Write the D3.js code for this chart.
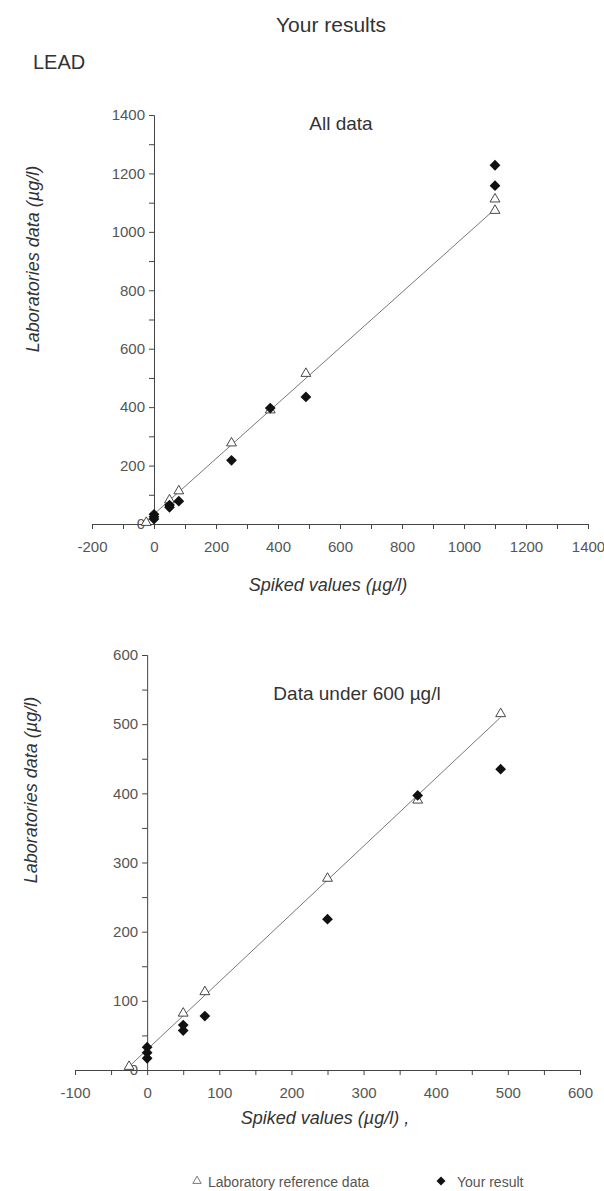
<!DOCTYPE html>
<html><head><meta charset="utf-8">
<script src="https://cdn.jsdelivr.net/npm/d3@7"></script>
<style>
html,body{margin:0;padding:0;background:#fff;}
svg{display:block;font-family:"Liberation Sans",Arial,sans-serif;}
</style></head>
<body>
<svg id="c" width="604" height="1191"></svg>
<script>
// Laboratory reference data (open triangles)
const refSpiked = [-25, 50, 80, 250, 375, 490, 1100, 1100];
const refLab    = [5, 82, 113, 277, 390, 515, 1112, 1073];
// Your result (black diamonds)
const yourSpiked = [0, 0, 0, 50, 50, 80, 250, 375, 490, 1100, 1100];
const yourLab    = [33, 25, 17, 65, 57, 78, 218, 397, 435, 1228, 1158];
// regression lines
const lineAllX = [-25, 1100], lineAllY = [10, 1078];
const lineSubX = [-25, 490],  lineSubY = [5, 510];
// ticks
const xTicksAll = d3.range(-200, 1401, 100);
const yTicksAll = d3.range(0, 1401, 100);
const xTicksSub = d3.range(-100, 601, 50);
const yTicksSub = d3.range(0, 601, 50);

const svg = d3.select("#c");
const ink = "#333";

svg.append("text").attr("x", 331).attr("y", 32).attr("text-anchor", "middle")
  .attr("font-size", 21).attr("fill", ink).text("Your results");
svg.append("text").attr("x", 33).attr("y", 69)
  .attr("font-size", 20).attr("fill", ink).text("LEAD");

function panel(o) {
  const x = d3.scaleLinear().domain(o.xd).range(o.xr);
  const y = d3.scaleLinear().domain(o.yd).range(o.yr);
  const g = svg.append("g");
  const xAx = g.append("g").attr("transform", `translate(0,${y(0)})`)
    .call(d3.axisBottom(x).tickValues(o.xt).tickSize(5).tickPadding(12)
      .tickFormat(d => d % o.xl === 0 ? d : ""));
  const yAx = g.append("g").attr("transform", `translate(${x(0)},0)`)
    .call(d3.axisLeft(y).tickValues(o.yt).tickSize(5).tickPadding(4)
      .tickFormat(d => d % o.yl === 0 ? d : ""));
  [xAx, yAx].forEach(a => {
    a.select(".domain").attr("stroke", "#444").attr("stroke-width", 1);
    a.selectAll(".tick line").attr("stroke", "#444");
    a.selectAll("text").attr("font-size", 15).attr("fill", "#555")
      .attr("font-family", "Liberation Sans, Arial, sans-serif");
  });
  // regression line
  g.append("path")
    .datum(o.lx.map((v, i) => [v, o.ly[i]]))
    .attr("d", d3.line().x(d => x(d[0])).y(d => y(d[1])))
    .attr("fill", "none").attr("stroke", "#777").attr("stroke-width", 1);
  // triangles
  const refPts = refSpiked.map((v, i) => [v, refLab[i]]).filter(d => d[0] < o.lim);
  g.selectAll(".tri").data(refPts).enter().append("path")
    .attr("d", d3.symbol(d3.symbolTriangle, 42)())
    .attr("transform", d => `translate(${x(d[0])},${y(d[1])})`)
    .attr("fill", "#fff").attr("stroke", "#333").attr("stroke-width", 0.9);
  // diamonds
  const yourPts = yourSpiked.map((v, i) => [v, yourLab[i]]).filter(d => d[0] < o.lim);
  g.selectAll(".dia").data(yourPts).enter().append("path")
    .attr("d", d3.symbol(d3.symbolSquare, 58)())
    .attr("transform", d => `translate(${x(d[0])},${y(d[1])}) rotate(45)`)
    .attr("fill", "#111");
  // titles
  g.append("text").attr("x", o.tx).attr("y", o.ty).attr("text-anchor", "middle")
    .attr("font-size", 19).attr("fill", ink).text(o.title);
  g.append("text").attr("x", o.xtx).attr("y", o.xty).attr("text-anchor", "middle")
    .attr("font-size", 18).attr("font-style", "italic").attr("fill", ink).text(o.xTitle);
  g.append("text").attr("transform", `translate(${o.ytx},${o.yty}) rotate(-90)`)
    .attr("text-anchor", "middle")
    .attr("font-size", 18).attr("font-style", "italic").attr("fill", ink).text("Laboratories data (µg/l)");
}

panel({xd: [-200, 1400], xr: [92, 588], yd: [0, 1400], yr: [524, 115],
  xt: xTicksAll, yt: yTicksAll, xl: 200, yl: 200, lim: Infinity,
  lx: lineAllX, ly: lineAllY,
  title: "All data", tx: 341, ty: 130,
  xTitle: "Spiked values (µg/l)", xtx: 328, xty: 591,
  ytx: 39, yty: 259});

panel({xd: [-100, 600], xr: [75, 580], yd: [0, 600], yr: [1070, 655],
  xt: xTicksSub, yt: yTicksSub, xl: 100, yl: 100, lim: 600,
  lx: lineSubX, ly: lineSubY,
  title: "Data under 600 µg/l", tx: 357, ty: 700,
  xTitle: "Spiked values (µg/l) ,", xtx: 325, xty: 1124,
  ytx: 37, yty: 790});

// legend
const lg = svg.append("g");
lg.append("path").attr("d", d3.symbol(d3.symbolTriangle, 30)())
  .attr("transform", "translate(197,1181)")
  .attr("fill", "#fff").attr("stroke", "#555").attr("stroke-width", 0.8);
lg.append("text").attr("x", 208).attr("y", 1187).attr("font-size", 14)
  .attr("fill", "#555").text("Laboratory reference data");
lg.append("path").attr("d", d3.symbol(d3.symbolSquare, 40)())
  .attr("transform", "translate(441,1181) rotate(45)").attr("fill", "#111");
lg.append("text").attr("x", 457).attr("y", 1187).attr("font-size", 14)
  .attr("fill", "#555").text("Your result");
</script>
</body></html>
